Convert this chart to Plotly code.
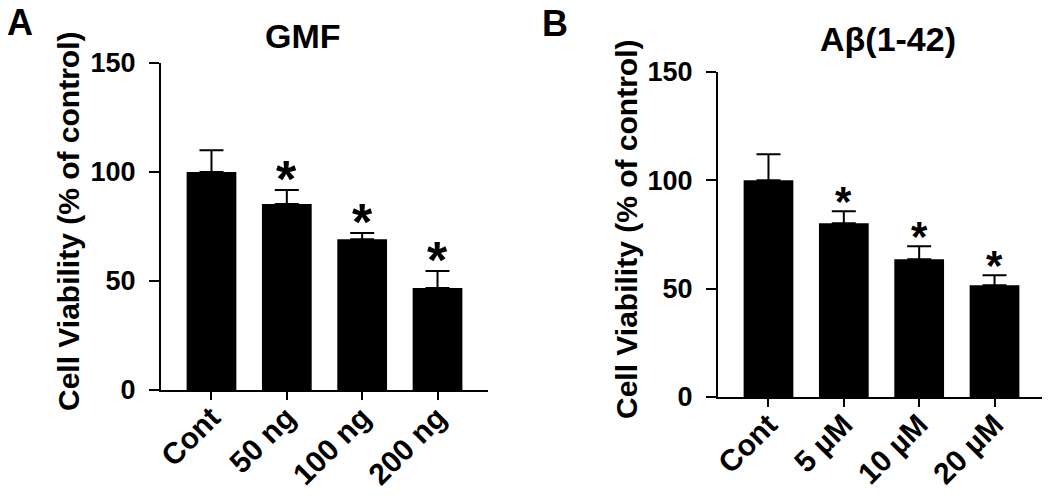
import plotly.graph_objects as go

# ---- data ----
gmf_categories = ["Cont", "50 ng", "100 ng", "200 ng"]
gmf_values = [100, 85.3, 69.2, 46.8]
gmf_errors = [10.0, 6.4, 2.8, 7.8]
gmf_signif = ["", "*", "*", "*"]

ab_categories = ["Cont", "5 µM", "10 µM", "20 µM"]
ab_values = [100, 80.2, 63.6, 51.6]
ab_errors = [12.0, 5.5, 6.0, 4.6]
ab_signif = ["", "*", "*", "*"]

y_ticks = [0, 50, 100, 150]

FONT = "Arial, Liberation Sans, Helvetica, sans-serif"
# the page body has an 8px default margin; compensate so the figure
# lines up with the 1050x501 window
OFF = 8
W, H = 1050 - OFF, 501 - 2 * OFF

fig = go.Figure()


def add_panel(cats, vals, errs, xa, ya):
    fig.add_trace(go.Bar(
        x=cats, y=vals, width=0.66,
        marker=dict(color="black", line=dict(width=0)),
        error_y=dict(type="data", array=errs, arrayminus=[0] * len(errs),
                     symmetric=False, color="black", thickness=2, width=12),
        xaxis=xa, yaxis=ya, showlegend=False, hoverinfo="x+y",
    ))


add_panel(gmf_categories, gmf_values, gmf_errors, "x", "y")
add_panel(ab_categories, ab_values, ab_errors, "x2", "y2")

# significance asterisks
annotations = []
for cats, vals, errs, sig, xr, yr, size in [
    (gmf_categories, gmf_values, gmf_errors, gmf_signif, "x", "y", 52),
    (ab_categories, ab_values, ab_errors, ab_signif, "x2", "y2", 42),
]:
    for c, v, e, s in zip(cats, vals, errs, sig):
        if s:
            annotations.append(dict(
                x=c, y=v + e, xref=xr, yref=yr, text=s, showarrow=False,
                yanchor="bottom", yshift=-int(size * 0.40),
                font=dict(family=FONT, size=size, color="black", weight=700),
            ))


# window pixel -> paper coords
def px_x(x):
    return (x - OFF) / W


def px_y(y):
    return 1 - (y - OFF) / H


text_items = [
    ("A", 20, 22, 36, 0),
    ("B", 555, 24, 36, 0),
    ("GMF", 303, 36, 34, 0),
    ("Aβ(1-42)", 888, 39, 34, 0),
    ("Cell Viability (% of control)", 68, 222, 30, -90),
    ("Cell Viability (% of control)", 627, 230, 30, -90),
]
for t, x, y, s, ang in text_items:
    annotations.append(dict(
        x=px_x(x), y=px_y(y), xref="paper", yref="paper", text=t,
        showarrow=False, xanchor="center", yanchor="middle", textangle=ang,
        font=dict(family=FONT, size=s, color="black", weight=700),
    ))

axis_common = dict(
    showline=True, linewidth=2, linecolor="black", showgrid=False,
    zeroline=False, ticks="outside", tickwidth=2, tickcolor="black",
    automargin=False,
)
tick_y = dict(family=FONT, size=27, color="black", weight=700)
tick_x = dict(family=FONT, size=30, color="black", weight=700)

fig.update_layout(
    width=W, height=H,
    margin=dict(l=0, r=0, t=0, b=0),
    paper_bgcolor="white", plot_bgcolor="white",
    bargap=0.3,
    annotations=annotations,
    xaxis=dict(domain=[px_x(161), px_x(488)], range=[-0.67, 3.67],
               anchor="y", tickangle=-45, ticklen=8, tickfont=tick_x,
               ticklabelstandoff=-12, **axis_common),
    yaxis=dict(domain=[px_y(390), px_y(63)], range=[0, 150], anchor="x",
               tickvals=y_ticks, ticklen=10, ticklabelstandoff=8,
               tickfont=tick_y, **axis_common),
    xaxis2=dict(domain=[px_x(718), px_x(1045)], range=[-0.67, 3.67],
                anchor="y2", tickangle=-45, ticklen=8, tickfont=tick_x,
                ticklabelstandoff=-12, **axis_common),
    yaxis2=dict(domain=[px_y(397), px_y(72)], range=[0, 150], anchor="x2",
                tickvals=y_ticks, ticklen=10, ticklabelstandoff=8,
                tickfont=tick_y, **axis_common),
)

fig.write_html("out.html")
